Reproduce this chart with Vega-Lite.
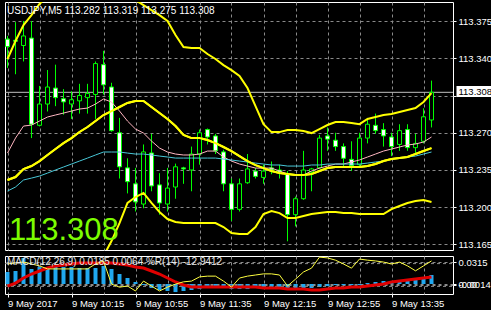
{
"$schema":"https://vega.github.io/schema/vega-lite/v6.json",
"background":"black",
"padding":{"left":1,"top":1,"right":0,"bottom":2},
"spacing":3,
"config":{
 "view":{"stroke":"white","strokeWidth":1},
 "scale":{"continuousPadding":0},
 "axis":{"labelColor":"white","labelFont":"Liberation Sans","labelFontSize":9.5,"gridColor":"#8A8A8A","gridDash":[3,3],"tickColor":"white","domain":false}
},
"datasets":{"bars":[
{"t":"2017-05-09T09:35:00Z","o":113.358,"h":113.361,"l":113.331,"c":113.351,"u":113.3393,"m":113.2256,"b":113.1118,"p":113.2509,"cy":113.2152,"hi":0.0172,"sg":-0.0029,"wr":-21},
{"t":"2017-05-09T09:40:00Z","o":113.357,"h":113.374,"l":113.325,"c":113.356,"u":113.3562,"m":113.2284,"b":113.1006,"p":113.265,"cy":113.219,"hi":0.0186,"sg":0.0014,"wr":-18},
{"t":"2017-05-09T09:45:00Z","o":113.352,"h":113.375,"l":113.337,"c":113.361,"u":113.3712,"m":113.2359,"b":113.1006,"p":113.2763,"cy":113.2256,"hi":0.0372,"sg":0.0086,"wr":-16},
{"t":"2017-05-09T09:50:00Z","o":113.359,"h":113.375,"l":113.265,"c":113.278,"u":113.3806,"m":113.2387,"b":113.0968,"p":113.2772,"cy":113.2274,"hi":0.0215,"sg":0.0143,"wr":-21},
{"t":"2017-05-09T09:55:00Z","o":113.277,"h":113.314,"l":113.276,"c":113.297,"u":113.391,"m":113.2434,"b":113.0958,"p":113.281,"cy":113.2293,"hi":0.0243,"sg":0.0186,"wr":-26},
{"t":"2017-05-09T10:00:00Z","o":113.297,"h":113.329,"l":113.29,"c":113.313,"u":113.3985,"m":113.2491,"b":113.0996,"p":113.2848,"cy":113.2321,"hi":0.0243,"sg":0.0229,"wr":-34},
{"t":"2017-05-09T10:05:00Z","o":113.312,"h":113.334,"l":113.295,"c":113.303,"u":113.4051,"m":113.2547,"b":113.1043,"p":113.2867,"cy":113.235,"hi":0.0243,"sg":0.0258,"wr":-34},
{"t":"2017-05-09T10:10:00Z","o":113.302,"h":113.311,"l":113.287,"c":113.299,"u":113.4107,"m":113.2603,"b":113.11,"p":113.2885,"cy":113.2378,"hi":0.0243,"sg":0.0272,"wr":-34},
{"t":"2017-05-09T10:15:00Z","o":113.297,"h":113.309,"l":113.283,"c":113.301,"u":113.4145,"m":113.265,"b":113.1156,"p":113.2904,"cy":113.2406,"hi":0.0243,"sg":0.0286,"wr":-34},
{"t":"2017-05-09T10:20:00Z","o":113.3,"h":113.316,"l":113.288,"c":113.305,"u":113.4173,"m":113.2707,"b":113.1241,"p":113.2923,"cy":113.2434,"hi":0.0229,"sg":0.0301,"wr":-34},
{"t":"2017-05-09T10:25:00Z","o":113.303,"h":113.316,"l":113.288,"c":113.307,"u":113.4192,"m":113.2754,"b":113.1316,"p":113.2932,"cy":113.2462,"hi":0.0229,"sg":0.0301,"wr":-34},
{"t":"2017-05-09T10:30:00Z","o":113.306,"h":113.337,"l":113.283,"c":113.335,"u":113.4201,"m":113.281,"b":113.1419,"p":113.297,"cy":113.2491,"hi":0.0229,"sg":0.0301,"wr":-21},
{"t":"2017-05-09T10:35:00Z","o":113.334,"h":113.347,"l":113.306,"c":113.315,"u":113.4192,"m":113.2867,"b":113.1541,"p":113.3017,"cy":113.2519,"hi":0.0258,"sg":0.0301,"wr":-13},
{"t":"2017-05-09T10:40:00Z","o":113.313,"h":113.317,"l":113.271,"c":113.272,"u":113.4126,"m":113.2904,"b":113.1682,"p":113.2989,"cy":113.2519,"hi":0.0215,"sg":0.0301,"wr":-74},
{"t":"2017-05-09T10:45:00Z","o":113.27,"h":113.284,"l":113.227,"c":113.238,"u":113.4051,"m":113.2942,"b":113.1851,"p":113.2904,"cy":113.2519,"hi":0.0143,"sg":0.0286,"wr":-82},
{"t":"2017-05-09T10:50:00Z","o":113.237,"h":113.246,"l":113.213,"c":113.224,"u":113.3994,"m":113.298,"b":113.204,"p":113.281,"cy":113.2509,"hi":0.0086,"sg":0.0272,"wr":-79},
{"t":"2017-05-09T10:55:00Z","o":113.222,"h":113.237,"l":113.196,"c":113.205,"u":113.3947,"m":113.2998,"b":113.2096,"p":113.2735,"cy":113.25,"hi":0.0029,"sg":0.0243,"wr":-92},
{"t":"2017-05-09T11:00:00Z","o":113.203,"h":113.259,"l":113.199,"c":113.252,"u":113.39,"m":113.2998,"b":113.2134,"p":113.2697,"cy":113.25,"hi":-0.0014,"sg":0.0229,"wr":-66},
{"t":"2017-05-09T11:05:00Z","o":113.251,"h":113.269,"l":113.215,"c":113.22,"u":113.3853,"m":113.2942,"b":113.204,"p":113.2622,"cy":113.2491,"hi":-0.0057,"sg":0.0186,"wr":-79},
{"t":"2017-05-09T11:10:00Z","o":113.221,"h":113.232,"l":113.193,"c":113.204,"u":113.3806,"m":113.2885,"b":113.1955,"p":113.2556,"cy":113.2481,"hi":-0.0086,"sg":0.0143,"wr":-92},
{"t":"2017-05-09T11:15:00Z","o":113.203,"h":113.237,"l":113.196,"c":113.218,"u":113.375,"m":113.2829,"b":113.1889,"p":113.2519,"cy":113.2472,"hi":-0.01,"sg":0.0086,"wr":-82},
{"t":"2017-05-09T11:20:00Z","o":113.219,"h":113.241,"l":113.208,"c":113.238,"u":113.3618,"m":113.2763,"b":113.1861,"p":113.25,"cy":113.2462,"hi":-0.0115,"sg":0.0029,"wr":-74},
{"t":"2017-05-09T11:25:00Z","o":113.237,"h":113.238,"l":113.222,"c":113.236,"u":113.3506,"m":113.2679,"b":113.1851,"p":113.2491,"cy":113.2462,"hi":-0.01,"sg":-0.0014,"wr":-68},
{"t":"2017-05-09T11:30:00Z","o":113.235,"h":113.257,"l":113.215,"c":113.25,"u":113.3496,"m":113.265,"b":113.1851,"p":113.2491,"cy":113.2462,"hi":-0.0086,"sg":-0.0043,"wr":-66},
{"t":"2017-05-09T11:35:00Z","o":113.25,"h":113.273,"l":113.24,"c":113.27,"u":113.3496,"m":113.265,"b":113.1851,"p":113.25,"cy":113.2462,"hi":-0.0072,"sg":-0.0043,"wr":-55},
{"t":"2017-05-09T11:40:00Z","o":113.273,"h":113.274,"l":113.259,"c":113.266,"u":113.344,"m":113.2632,"b":113.1851,"p":113.2528,"cy":113.2462,"hi":-0.0057,"sg":-0.0043,"wr":-53},
{"t":"2017-05-09T11:45:00Z","o":113.267,"h":113.269,"l":113.25,"c":113.253,"u":113.3393,"m":113.2603,"b":113.1851,"p":113.2528,"cy":113.2462,"hi":-0.0057,"sg":-0.0043,"wr":-53},
{"t":"2017-05-09T11:50:00Z","o":113.252,"h":113.254,"l":113.215,"c":113.222,"u":113.3336,"m":113.2566,"b":113.1814,"p":113.2472,"cy":113.2453,"hi":-0.0057,"sg":-0.0043,"wr":-66},
{"t":"2017-05-09T11:55:00Z","o":113.222,"h":113.227,"l":113.187,"c":113.198,"u":113.3289,"m":113.2528,"b":113.1757,"p":113.2434,"cy":113.2444,"hi":-0.0072,"sg":-0.0043,"wr":-82},
{"t":"2017-05-09T12:00:00Z","o":113.198,"h":113.227,"l":113.196,"c":113.222,"u":113.3233,"m":113.2481,"b":113.1748,"p":113.2406,"cy":113.2434,"hi":-0.0072,"sg":-0.0043,"wr":-58},
{"t":"2017-05-09T12:05:00Z","o":113.223,"h":113.25,"l":113.222,"c":113.236,"u":113.312,"m":113.2434,"b":113.1748,"p":113.2387,"cy":113.2425,"hi":-0.0072,"sg":-0.0043,"wr":-53},
{"t":"2017-05-09T12:10:00Z","o":113.234,"h":113.237,"l":113.227,"c":113.229,"u":113.2951,"m":113.2396,"b":113.1814,"p":113.2368,"cy":113.2415,"hi":-0.0057,"sg":-0.0043,"wr":-50},
{"t":"2017-05-09T12:15:00Z","o":113.228,"h":113.24,"l":113.222,"c":113.234,"u":113.2781,"m":113.2368,"b":113.1936,"p":113.2368,"cy":113.2406,"hi":-0.0057,"sg":-0.0057,"wr":-47},
{"t":"2017-05-09T12:20:00Z","o":113.237,"h":113.243,"l":113.231,"c":113.235,"u":113.2706,"m":113.234,"b":113.1964,"p":113.2368,"cy":113.2397,"hi":-0.0057,"sg":-0.0057,"wr":-47},
{"t":"2017-05-09T12:25:00Z","o":113.235,"h":113.24,"l":113.227,"c":113.233,"u":113.2706,"m":113.2321,"b":113.1945,"p":113.234,"cy":113.2397,"hi":-0.0057,"sg":-0.0057,"wr":-50},
{"t":"2017-05-09T12:30:00Z","o":113.231,"h":113.234,"l":113.168,"c":113.193,"u":113.2726,"m":113.2312,"b":113.1898,"p":113.2312,"cy":113.2387,"hi":-0.0072,"sg":-0.0072,"wr":-79},
{"t":"2017-05-09T12:35:00Z","o":113.193,"h":113.21,"l":113.182,"c":113.208,"u":113.2726,"m":113.2302,"b":113.1898,"p":113.2302,"cy":113.2387,"hi":-0.0086,"sg":-0.0072,"wr":-61},
{"t":"2017-05-09T12:40:00Z","o":113.208,"h":113.253,"l":113.207,"c":113.235,"u":113.2716,"m":113.2302,"b":113.1917,"p":113.2302,"cy":113.2387,"hi":-0.0072,"sg":-0.0072,"wr":-42},
{"t":"2017-05-09T12:45:00Z","o":113.233,"h":113.237,"l":113.215,"c":113.236,"u":113.2697,"m":113.2312,"b":113.1936,"p":113.234,"cy":113.2397,"hi":-0.0057,"sg":-0.0086,"wr":-32},
{"t":"2017-05-09T12:50:00Z","o":113.237,"h":113.268,"l":113.236,"c":113.265,"u":113.2735,"m":113.234,"b":113.1945,"p":113.2368,"cy":113.2397,"hi":-0.0043,"sg":-0.0086,"wr":-3},
{"t":"2017-05-09T12:55:00Z","o":113.267,"h":113.275,"l":113.253,"c":113.264,"u":113.2773,"m":113.2368,"b":113.1955,"p":113.2387,"cy":113.2406,"hi":-0.0029,"sg":-0.0072,"wr":-5},
{"t":"2017-05-09T13:00:00Z","o":113.263,"h":113.27,"l":113.253,"c":113.257,"u":113.2801,"m":113.2378,"b":113.1955,"p":113.2406,"cy":113.2406,"hi":-0.0014,"sg":-0.0057,"wr":-11},
{"t":"2017-05-09T13:05:00Z","o":113.257,"h":113.26,"l":113.238,"c":113.246,"u":113.2801,"m":113.2378,"b":113.1945,"p":113.2406,"cy":113.2406,"hi":-0.0014,"sg":-0.0057,"wr":-21},
{"t":"2017-05-09T13:10:00Z","o":113.245,"h":113.262,"l":113.234,"c":113.239,"u":113.2791,"m":113.2378,"b":113.1945,"p":113.2425,"cy":113.2406,"hi":-0.0014,"sg":-0.0043,"wr":-32},
{"t":"2017-05-09T13:15:00Z","o":113.24,"h":113.27,"l":113.238,"c":113.265,"u":113.2781,"m":113.2378,"b":113.1936,"p":113.2444,"cy":113.2406,"hi":-0.0014,"sg":-0.0043,"wr":-8},
{"t":"2017-05-09T13:20:00Z","o":113.265,"h":113.284,"l":113.26,"c":113.278,"u":113.2829,"m":113.2387,"b":113.1936,"p":113.2472,"cy":113.2415,"hi":0.0014,"sg":-0.0029,"wr":-11},
{"t":"2017-05-09T13:25:00Z","o":113.277,"h":113.288,"l":113.269,"c":113.272,"u":113.2848,"m":113.2406,"b":113.1936,"p":113.25,"cy":113.2425,"hi":0.0029,"sg":-0.0014,"wr":-13},
{"t":"2017-05-09T13:30:00Z","o":113.273,"h":113.279,"l":113.257,"c":113.267,"u":113.2867,"m":113.2434,"b":113.1936,"p":113.2528,"cy":113.2434,"hi":0.0043,"sg":0.0,"wr":-16},
{"t":"2017-05-09T13:35:00Z","o":113.266,"h":113.27,"l":113.248,"c":113.257,"u":113.2876,"m":113.2453,"b":113.1983,"p":113.2547,"cy":113.2453,"hi":0.0043,"sg":0.0029,"wr":-21},
{"t":"2017-05-09T13:40:00Z","o":113.259,"h":113.278,"l":113.253,"c":113.272,"u":113.2895,"m":113.2462,"b":113.2011,"p":113.2566,"cy":113.2462,"hi":0.0057,"sg":0.0043,"wr":-16},
{"t":"2017-05-09T13:45:00Z","o":113.273,"h":113.278,"l":113.253,"c":113.256,"u":113.2914,"m":113.2472,"b":113.204,"p":113.2585,"cy":113.2472,"hi":0.0072,"sg":0.0057,"wr":-26},
{"t":"2017-05-09T13:50:00Z","o":113.256,"h":113.269,"l":113.25,"c":113.26,"u":113.2932,"m":113.25,"b":113.2058,"p":113.2594,"cy":113.2481,"hi":0.0072,"sg":0.0072,"wr":-39},
{"t":"2017-05-09T13:55:00Z","o":113.262,"h":113.293,"l":113.26,"c":113.285,"u":113.2989,"m":113.2528,"b":113.2068,"p":113.2613,"cy":113.25,"hi":0.0086,"sg":0.0086,"wr":-26},
{"t":"2017-05-09T14:00:00Z","o":113.282,"h":113.319,"l":113.275,"c":113.308,"u":113.3073,"m":113.2556,"b":113.2049,"p":113.266,"cy":113.2519,"hi":0.0129,"sg":0.01,"wr":-12.9412}
]},
"vconcat":[
{
 "width":448,"height":248,
 "data":{"name":"bars"},
 "resolve":{"axis":{"x":"independent","y":"independent"}},
 "layer":[
  {"mark":{"type":"line","color":"#FFFF00","strokeWidth":2,"clip":true},
   "encoding":{
    "x":{"field":"t","type":"temporal","title":null,
      "scale":{"type":"utc","domain":[1494322406250,1494339206250],"padding":0,"nice":false},
      "axis":{"values":[1494322500000,1494323700000,1494324900000,1494326100000,1494327300000,1494328500000,1494329700000,1494330900000,1494332100000,1494333300000,1494334500000,1494335700000,1494336900000,1494338100000],
       "labels":false,"ticks":false,"grid":true,"minExtent":0,"maxExtent":0}},
    "y":{"field":"m","type":"quantitative","title":null,"scale":{"domain":[113.1598,113.3929],"padding":0,"nice":false,"zero":false},
      "axis":{"orient":"right","values":[113.165,113.2,113.235,113.27,113.305,113.34,113.375],"grid":true,"tickSize":3,"labelPadding":2,
        "labelExpr":"abs(datum.value - 113.305) < 0.0001 ? '' : format(datum.value, '.3f')"}}}},
  {"mark":{"type":"rule","color":"#C0C0C0","strokeWidth":1},
   "data":{"values":[{"bid":113.308}]},
   "encoding":{
    "x":{"datum":1494322406250,"type":"temporal","axis":null},
    "x2":{"datum":1494339206250},
    "y":{"field":"bid","type":"quantitative","axis":null}}},
  {"mark":{"type":"rule","color":"#00FF00","strokeWidth":1},
   "encoding":{"x":{"field":"t","type":"temporal","axis":null},"y":{"field":"l","type":"quantitative","axis":null},"y2":{"field":"h"}}},
  {"mark":{"type":"bar","width":4,"stroke":"#00FF00","strokeWidth":1},
   "encoding":{"x":{"field":"t","type":"temporal","axis":null},"y":{"field":"o","type":"quantitative","axis":null},"y2":{"field":"c"},
     "fill":{"condition":{"test":"datum.c > datum.o","value":"black"},"value":"white"}}},
  {"mark":{"type":"line","color":"#FFB6C1","strokeWidth":1,"clip":true},
   "encoding":{"x":{"field":"t","type":"temporal","axis":null},"y":{"field":"p","type":"quantitative","axis":null}}},
  {"mark":{"type":"line","color":"#48C8D8","strokeWidth":1,"clip":true},
   "encoding":{"x":{"field":"t","type":"temporal","axis":null},"y":{"field":"cy","type":"quantitative","axis":null}}},
  {"mark":{"type":"line","color":"#FFFF00","strokeWidth":2,"clip":true},
   "encoding":{"x":{"field":"t","type":"temporal","axis":null},"y":{"field":"u","type":"quantitative","axis":null}}},
  {"mark":{"type":"line","color":"#FFFF00","strokeWidth":2,"clip":true},
   "encoding":{"x":{"field":"t","type":"temporal","axis":null},"y":{"field":"m","type":"quantitative","axis":null}}},
  {"mark":{"type":"line","color":"#FFFF00","strokeWidth":2,"clip":true},
   "encoding":{"x":{"field":"t","type":"temporal","axis":null},"y":{"field":"b","type":"quantitative","axis":null}}},
  {"mark":{"type":"rect","fill":"white"},
   "data":{"values":[{"bid":113.308}]},
   "encoding":{"x":{"datum":1494339337500,"type":"temporal","axis":null},
     "x2":{"datum":1494340687500},
     "y":{"datum":113.3139,"type":"quantitative","axis":null},"y2":{"datum":113.3036}}},
  {"mark":{"type":"text","color":"black","font":"Liberation Sans","fontSize":9.5,"align":"left","baseline":"middle"},
   "data":{"values":[{"s":"113.308","bid":113.308}]},
   "encoding":{"x":{"datum":1494339412500,"type":"temporal","axis":null},
     "y":{"field":"bid","type":"quantitative","axis":null},"text":{"field":"s"}}},
  {"mark":{"type":"text","color":"white","font":"Liberation Sans","fontSize":10,"align":"left","baseline":"middle","dx":2},
   "data":{"values":[{"s":"USDJPY,M5  113.282 113.319 113.275 113.308"}]},
   "encoding":{"x":{"datum":1494322406250,"type":"temporal","axis":null},
     "y":{"datum":113.3844,"type":"quantitative","axis":null},"text":{"field":"s"}}},
  {"mark":{"type":"text","color":"#7CFC00","font":"Liberation Sans","fontSize":31,"align":"left","baseline":"alphabetic","dx":4},
   "data":{"values":[{"s":"113.308"}]},
   "encoding":{"x":{"datum":1494322406250,"type":"temporal","axis":null},
     "y":{"datum":113.1692,"type":"quantitative","axis":null},"text":{"field":"s"}}}
 ]
},
{
 "width":448,"height":38,
 "data":{"name":"bars"},
 "resolve":{"scale":{"y":"independent"},"axis":{"x":"independent","y":"independent"}},
 "layer":[
  {"mark":{"type":"bar","width":4,"color":"#20A8F0"},
   "encoding":{
    "x":{"field":"t","type":"temporal","title":null,
      "scale":{"type":"utc","domain":[1494322406250,1494339206250],"padding":0,"nice":false},
      "axis":{"values":[1494322500000,1494323700000,1494324900000,1494326100000,1494327300000,1494328500000,1494329700000,1494330900000,1494332100000,1494333300000,1494334500000,1494335700000,1494336900000,1494338100000],
       "grid":true,"tickSize":3,"labelPadding":1,"labelAlign":"left","labelBaseline":"top","labelOverlap":false,
       "tickOpacity":{"condition":{"test":"(utchours(datum.value)*60+utcminutes(datum.value)-575)%40==0","value":1},"value":0},
       "labelExpr":"(utchours(datum.value)*60+utcminutes(datum.value)-575)%40==0 ? (utchours(datum.value)==9 ? '9 May 2017' : utcFormat(datum.value,'%-d %b %H:%M')) : ''"}},
    "y":{"field":"hi","type":"quantitative","title":null,"scale":{"domain":[-0.0143,0.0401],"padding":0,"nice":false,"zero":false},
      "axis":{"orient":"right","values":[0.0315,0,-0.0014],"labelOverlap":false,"tickSize":3,"labelPadding":2,
        "labelExpr":"datum.value == 0 ? '0.00' : (datum.value < 0 ? '-0.0014' : '0.0315')"}},
    "y2":{"datum":0}}},
  {"mark":{"type":"rule","color":"#8A8A8A","strokeWidth":1,"strokeDash":[3,3]},
   "data":{"values":[{"lv":-20},{"lv":-80}]},
   "encoding":{"x":{"datum":1494322406250,"type":"temporal","axis":null},
     "x2":{"datum":1494339206250},
     "y":{"field":"lv","type":"quantitative","scale":{"domain":[-100,0],"nice":false,"zero":false},"axis":null}}},
  {"mark":{"type":"line","color":"#E00000","strokeWidth":3},
   "encoding":{"x":{"field":"t","type":"temporal","axis":null},
     "y":{"field":"sg","type":"quantitative","scale":{"domain":[-0.0143,0.0401],"nice":false,"zero":false},"axis":null}}},
  {"mark":{"type":"line","color":"#FFFF40","strokeWidth":1},
   "encoding":{"x":{"field":"t","type":"temporal","axis":null},
     "y":{"field":"wr","type":"quantitative","scale":{"domain":[-100,0],"nice":false,"zero":false},"axis":null}}},
  {"mark":{"type":"text","color":"#E8E8E8","font":"Liberation Sans","fontSize":10,"align":"left","baseline":"middle","dx":2},
   "data":{"values":[{"s":"MACD(12,26,9) 0.0185 0.0064  %R(14) -12.9412"}]},
   "encoding":{"x":{"datum":1494322406250,"type":"temporal","axis":null},
     "y":{"datum":0.0308,"type":"quantitative","scale":{"domain":[-0.0143,0.0401],"nice":false,"zero":false},"axis":null},"text":{"field":"s"}}}
 ]
}
]
}
